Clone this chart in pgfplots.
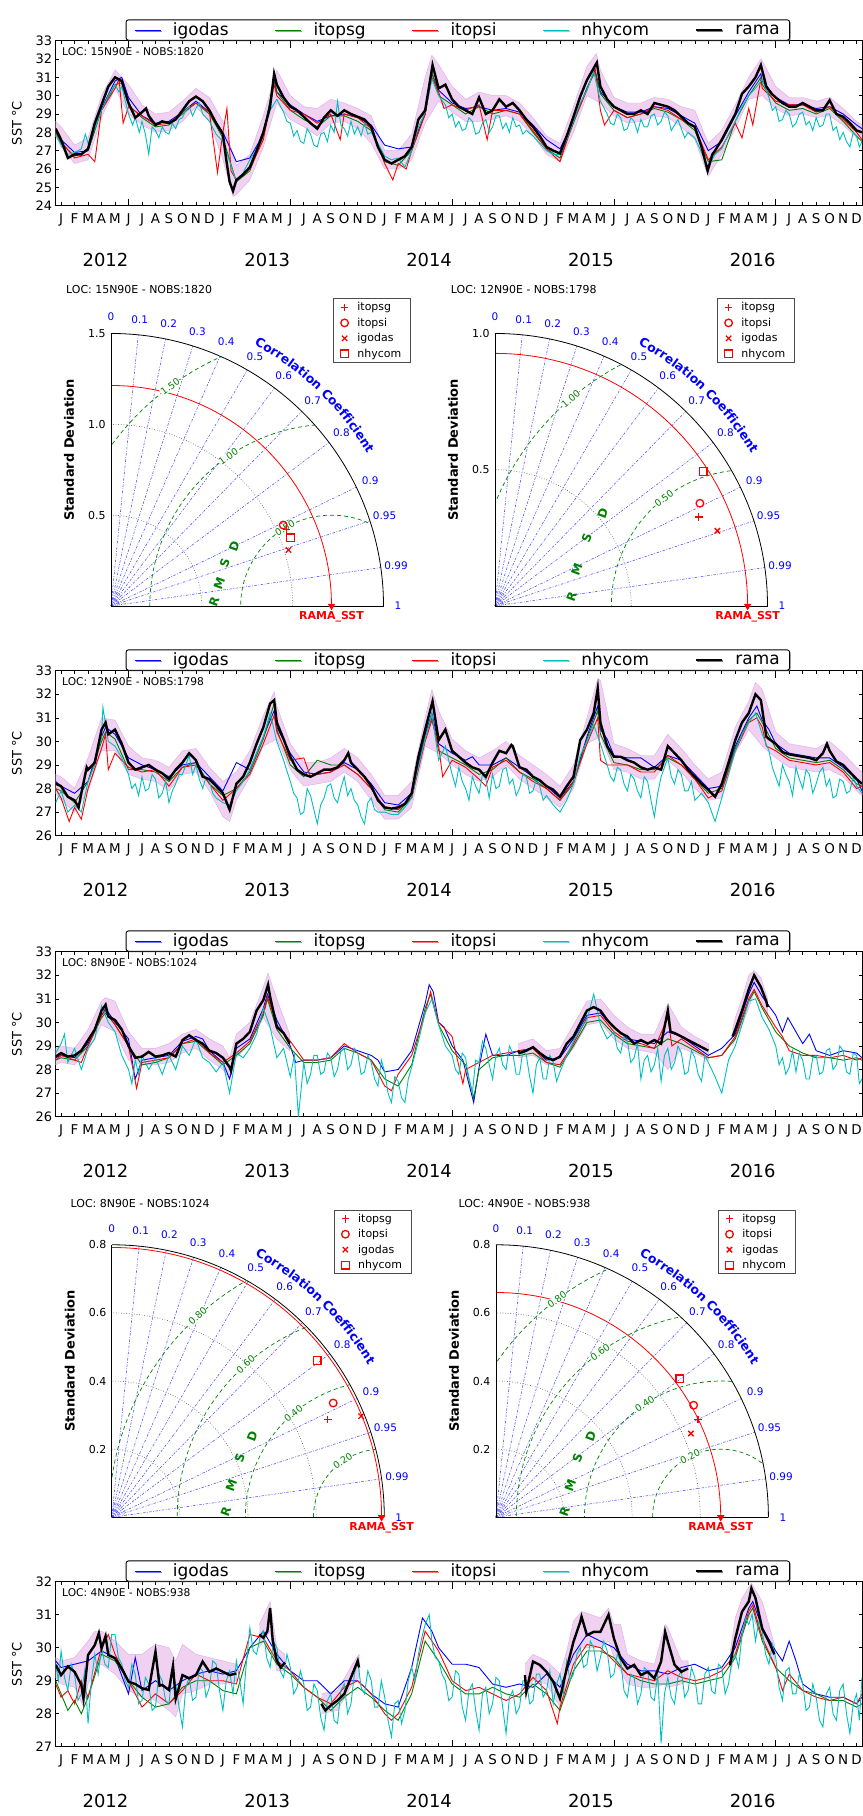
\documentclass[border=0pt]{standalone}
\usepackage{fontspec}
\setmainfont{DejaVu Sans}
\usepackage{pgfplots}
\pgfplotsset{compat=1.18}
\usetikzlibrary{decorations.text,shadows}
\definecolor{cB}{rgb}{0,0,1}
\definecolor{cG}{rgb}{0,0.5,0}
\definecolor{cR}{rgb}{1,0,0}
\definecolor{cC}{rgb}{0,0.75,0.75}
\definecolor{bandfill}{rgb}{0.94,0.82,0.95}
\definecolor{bandedge}{rgb}{0.86,0.68,0.89}
\tikzset{
 corrline/.style={blue!70!white, line width=0.55bp, dash pattern=on 2.5bp off 1.5bp on 0.8bp off 1.5bp},
 corrlab/.style={text=blue, font=\fontsize{10.5}{10.5}\selectfont, inner sep=0pt},
 stdgrid/.style={black!75, line width=0.6bp, dotted},
 rmsline/.style={cG, line width=0.7bp, dash pattern=on 4bp off 3bp},
 rmslab/.style={text=cG, font=\fontsize{9.5}{9.5}\selectfont, fill=white, inner sep=0.6bp},
 rmslet/.style={text=cG, font=\bfseries\fontsize{12}{12}\selectfont, inner sep=0pt, rotate=70},
 ttitle/.style={anchor=west, font=\fontsize{11}{11}\selectfont, inner sep=0pt},
}
\newcommand{\TaylorBase}[3]{%
\begin{scope}[shift={(#1,#2)}]
\foreach \ang/\lab in {84.26/0.1,78.46/0.2,72.54/0.3,66.42/0.4,60/0.5,53.13/0.6,45.57/0.7,36.87/0.8,25.84/0.9,18.19/0.95,8.11/0.99}{%
 \draw[corrline] (0,0) -- (\ang:272.5bp);
 \node[corrlab] at (\ang:288bp) {\lab};}
\node[corrlab] at (90:289bp) {0};
\node[corrlab] at (0:287bp) {1};
\foreach \rr in {3,6,9,12,15}{\draw[blue,dotted,line width=0.4bp] (\rr bp,0) arc[start angle=0,end angle=90,radius=\rr bp];}
\draw[black,line width=0.8bp] (272.5bp,0) arc[start angle=0,end angle=90,radius=272.5bp];
\draw[cR,line width=0.8bp] (#3,0) arc[start angle=0,end angle=90,radius=#3];
\node[font=\bfseries\fontsize{11}{11}\selectfont, text=cR] at (#3,-10.5bp) {RAMA\_SST};
\path[decorate,decoration={text along path,text align=center,text color=blue,text={|\bfseries\fontsize{12.5}{12.5}\selectfont|Correlation Coefficient}}] (76:298bp) arc[start angle=76,end angle=16,radius=298bp];
\end{scope}}
\newcommand{\stdarc}[1]{\draw[stdgrid] (#1,0) arc[start angle=0,end angle=90,radius=#1];}
\newcommand{\rmsarcs}[2]{\begin{scope}\clip (0,0) -- (272.5bp,0) arc[start angle=0,end angle=90,radius=272.5bp] -- cycle;
\foreach \rr in {#2}{\draw[rmsline] (#1,0) circle[radius=\rr];}\end{scope}}
\pgfplotsset{
 /pgf/number format/assume math mode=true,
 tsaxis/.style={
  anchor=south west, width=806.3bp, height=165bp, scale only axis,
  xmin=-0.4, xmax=59.4,
  xtick={0,...,59},
  xticklabels={J,F,M,A,M,J,J,A,S,O,N,D,J,F,M,A,M,J,J,A,S,O,N,D,J,F,M,A,M,J,J,A,S,O,N,D,J,F,M,A,M,J,J,A,S,O,N,D,J,F,M,A,M,J,J,A,S,O,N,D},
  xticklabel style={anchor=base, yshift=-18bp, inner sep=0pt, font=\fontsize{13.5}{13.5}\selectfont},
  extra x ticks={5,17,29,41,53},
  extra x tick labels={2012,2013,2014,2015,2016},
  extra x tick style={major tick length=7bp, xticklabel style={anchor=base east, yshift=-43bp, font=\fontsize{18}{18}\selectfont}},
  major tick length=3.5bp, tick align=inside,
  tick style={black, line width=0.6bp},
  yticklabel style={font=\fontsize{13}{13}\selectfont},
  ylabel={SST °C},
  ylabel style={at={(axis description cs:-0.048,0.5)}, anchor=center, font=\fontsize{13}{13}\selectfont},
  axis line style={line width=0.9bp},
  unbounded coords=jump,
  legend columns=5,
  legend entries={igodas,itopsg,itopsi,nhycom,rama},
  legend image code/.code={\draw[##1] (0bp,0bp) -- (26bp,0bp); \path (36bp,0bp);},
  legend style={at={(0.0867,1.0)}, anchor=south west, draw=black, line width=0.9bp, rounded corners=2.5bp, font=\fontsize{17}{17}\selectfont, inner xsep=8bp, inner ysep=1bp, /tikz/every even column/.append style={column sep=44bp}, drop shadow={shadow xshift=1.2bp, shadow yshift=-1.2bp, fill=black!55}},
 },
 ig/.style={cB, line width=0.9bp},
 tg/.style={cG, line width=0.9bp},
 ti/.style={cR, line width=0.9bp},
 nh/.style={cC, line width=0.9bp},
 ra/.style={black, line width=2.4bp},
 bd/.style={fill=bandfill, draw=bandedge, line width=0.4bp, forget plot},
 taxis/.style={
  anchor=south west, width=272.5bp, height=272.5bp, scale only axis,
  xmin=0, ymin=0,
  axis x line=bottom, axis y line=left, axis line style={-, line width=0.8bp},
  xtick=\empty, major tick length=0pt,
  yticklabel style={font=\fontsize{11}{11}\selectfont, /pgf/number format/fixed, /pgf/number format/fixed zerofill, /pgf/number format/precision=1, xshift=-2bp},
  ylabel={Standard Deviation},
  ylabel style={at={(axis description cs:-0.154,0.573)}, anchor=center, font=\bfseries\fontsize{13}{13}\selectfont},
  clip=false,
  legend cell align=left,
  legend entries={itopsg,itopsi,igodas,nhycom},
  legend style={at={(0.816,1.129)}, anchor=north west, draw=black!70, line width=0.9bp, font=\fontsize{11}{11}\selectfont, inner xsep=7bp, inner ysep=1bp, nodes={inner ysep=2.8bp}, /tikz/every odd column/.append style={column sep=7bp}},
 },
 tm/.style={only marks, cR, line width=1.3bp, mark size=3.8bp},
}
\begin{document}
\begin{tikzpicture}[x=1bp,y=1bp]
\useasboundingbox (0,0) rectangle (863,1816);

%================ PANEL 1 =================
\begin{axis}[tsaxis, at={(55.7bp,1610.3bp)}, ymin=24, ymax=33, ytick={24,...,33}]
\addplot[bd] coordinates {(-0.4,28.6)(0,28.3)(1,27.3)(2,27.7)(3,30.0)(4,31.4)(5,30.6)(6,29.5)(7,29.0)(8,29.1)(9,29.7)(10,30.4)(11,29.9)(12,28.6)(13,26.2)(14,26.8)(15,28.9)(16,31.4)(17,30.0)(18,29.4)(19,29.3)(20,29.8)(21,29.6)(22,29.3)(23,28.9)(24,27.0)(25,27.0)(26,27.9)(27,31.0)(27.5,32.2)(28,31.7)(29,30.5)(30,29.8)(31,30.2)(32,30.0)(33,30.0)(34,29.6)(35,28.8)(36,27.8)(37,27.4)(38,29.4)(39,31.6)(39.7,32.3)(40,31.4)(41,29.9)(42,29.6)(43,29.6)(44,29.9)(45,29.8)(46,29.4)(47,29.2)(48,27.4)(49,28.1)(50,29.5)(51,31.0)(51.9,32.0)(52,31.9)(53,30.5)(54,29.9)(55,29.9)(56,29.7)(57,29.9)(58,29.3)(59,28.6)(59.4,28.4)
(59.4,27.6)(59,27.7)(58,28.4)(57,28.9)(56,28.8)(55,29.0)(54,28.9)(53,29.3)(52,30.0)(51,29.8)(50,28.2)(49,26.8)(48,25.6)(47,27.6)(46,28.3)(45,28.8)(44,28.9)(43,28.6)(42,28.5)(41,28.9)(40,29.6)(39,30.0)(38,28.0)(37,26.4)(36,26.8)(35,27.8)(34,28.6)(33,28.9)(32,28.7)(31,28.6)(30,28.6)(29,29.1)(28,29.7)(27,28.5)(26,26.5)(25,26.0)(24,26.0)(23,27.4)(22,28.2)(21,28.6)(20,28.5)(19,27.8)(18,28.3)(17,28.7)(16,29.6)(15,27.2)(14,25.4)(13,24.6)(12.75,24.5)(12,26.5)(11,28.6)(10,29.4)(9,28.6)(8,28.1)(7,28.0)(6,28.4)(5,29.0)(4,30.4)(3,28.8)(2,26.5)(1,26.3)(0,27.2)(-0.4,27.8)};
\addplot[ig] coordinates {(-0.4,28.1)(0,27.6)(1,26.9)(2,27.0)(3,29.3)(4,30.8)(4.5,31.0)(5,29.9)(6,28.9)(7,28.5)(8,28.6)(9,29.1)(10,29.7)(11,29.1)(12,28.0)(13,26.4)(14,26.6)(15,27.9)(15.8,30.8)(16,30.2)(17,29.5)(18,29.0)(19,28.6)(20,28.9)(21,29.0)(22,28.8)(23,28.4)(24,27.3)(25,27.1)(26,27.2)(27,29.0)(27.5,31.2)(28,30.3)(29,29.6)(30,29.3)(31,29.4)(32,29.2)(33,29.3)(34,29.1)(35,28.4)(36,27.6)(37,27.1)(38,28.6)(39,30.4)(39.6,31.4)(40,30.2)(41,29.4)(42,29.1)(43,29.1)(44,29.4)(45,29.3)(46,28.9)(47,28.5)(48,27.0)(49,27.5)(50,28.9)(51,30.2)(51.9,31.2)(52,30.8)(53,29.9)(54,29.5)(55,29.5)(56,29.3)(57,29.4)(58,29.0)(59,28.4)(59.4,28.2)};
\addplot[tg] coordinates {(-0.4,28.0)(0,27.4)(1,26.7)(2,27.0)(3,29.2)(4,30.6)(4.5,30.7)(5,29.5)(6,28.8)(7,28.3)(8,28.4)(9,29.0)(10,29.6)(11,29.0)(12,27.7)(13,25.3)(14,25.9)(15,27.8)(15.8,30.9)(16,30.2)(17,29.2)(18,28.7)(19,28.3)(20,28.9)(21,28.9)(22,28.6)(23,28.1)(24,26.4)(25,26.2)(26,27.0)(27,29.0)(27.5,31.3)(28,30.0)(29,29.5)(30,29.0)(31,29.4)(32,29.0)(33,29.2)(34,29.0)(35,28.0)(36,27.1)(37,26.6)(38,28.5)(39,30.4)(39.6,31.3)(40,30.1)(41,29.2)(42,28.8)(43,29.0)(44,29.3)(45,29.1)(46,28.7)(47,28.1)(48,26.4)(49,26.5)(50,28.6)(51,30.0)(51.9,31.0)(52,30.6)(53,29.6)(54,29.2)(55,29.3)(56,29.0)(57,29.3)(58,28.6)(59,27.8)(59.4,27.5)};
\addplot[ti] coordinates {(-0.4,28.0)(0,27.5)(1,26.6)(2,26.8)(2.5,26.4)(3,29.2)(4,30.4)(4.3,30.9)(4.6,28.5)(5,29.4)(6,28.9)(7,28.4)(8,28.5)(9,29.1)(10,29.6)(11,29.1)(11.6,25.8)(12,28.0)(12.3,29.3)(12.6,25.9)(13,25.4)(14,26.0)(15,27.6)(15.8,30.6)(16,30.0)(17,29.2)(18,29.0)(19,28.5)(20,29.0)(20.7,27.6)(21,29.0)(22,28.8)(23,28.2)(24,26.3)(24.6,25.4)(25,26.3)(25.6,26.0)(26,27.0)(27,29.0)(27.5,31.0)(28,30.2)(28.4,29.3)(29,29.5)(30,29.2)(31,29.5)(31.6,27.6)(32,29.2)(33,29.2)(34,29.0)(35,28.1)(36,27.1)(37,26.4)(38,28.6)(39,30.3)(39.6,31.5)(40,29.2)(40.3,28.4)(41,29.2)(42,28.8)(43,29.0)(44,29.4)(45,29.2)(46,28.7)(47,28.3)(48,26.5)(49,27.2)(50,28.5)(50.5,27.7)(51,29.3)(51.3,28.4)(51.9,30.9)(52,30.4)(53,29.7)(54,29.5)(55,29.5)(56,29.1)(57,29.4)(58,28.7)(59,28.0)(59.4,27.6)};
\addplot[nh] coordinates {(-0.4,27.9)(0,27.3)(0.5,26.8)(1,26.9)(1.5,27.1)(1.8,27.9)(2,27.4)(2.5,28.2)(3,29.2)(3.5,30.0)(4,30.6)(4.3,30.2)(4.5,30.5)(5,29.0)(5.3,28.4)(5.5,28.8)(5.8,28.0)(6,28.6)(6.25,27.9)(6.5,26.8)(6.75,28.3)(7,28.1)(7.25,27.7)(7.5,28.3)(7.75,28.0)(8,27.9)(8.25,28.5)(8.5,28.2)(8.75,28.7)(9,28.8)(9.25,29.2)(9.5,29.4)(9.75,28.9)(10,29.3)(10.25,29.6)(10.5,29.0)(10.75,28.8)(11,28.6)(11.5,27.9)(12,27.5)(12.5,26.4)(13,25.3)(13.5,25.8)(14,26.5)(14.5,27.1)(15,28.1)(15.5,29.2)(16,29.8)(16.5,29.1)(16.75,28.6)(17,28.5)(17.25,27.8)(17.5,28.1)(17.75,27.5)(18,27.4)(18.25,28.2)(18.5,27.9)(18.75,27.3)(19,27.2)(19.25,27.9)(19.5,28.0)(19.75,27.5)(20,28.4)(20.25,28.0)(20.5,29.7)(20.75,28.4)(21,28.2)(21.25,27.8)(21.5,28.6)(21.75,27.9)(22,28.3)(22.25,27.8)(22.5,28.5)(22.75,27.9)(23,28.0)(23.5,27.4)(24,26.7)(24.5,26.5)(25,26.6)(25.5,26.1)(26,27.0)(26.5,28.3)(27,29.1)(27.5,30.9)(28,30.0)(28.5,29.5)(28.75,28.8)(29,29.0)(29.25,28.3)(29.5,28.6)(29.75,28.1)(30,28.2)(30.25,28.8)(30.5,28.6)(30.75,27.9)(31,28.0)(31.25,28.5)(31.5,28.7)(31.75,28.0)(32,28.3)(32.25,28.9)(32.5,28.9)(32.75,28.2)(33,28.5)(33.25,28.0)(33.5,28.8)(33.75,28.3)(34,28.4)(34.25,27.9)(34.5,28.1)(35,27.8)(35.5,27.4)(36,27.0)(36.5,26.8)(37,26.8)(37.5,27.6)(38,28.6)(38.5,29.6)(39,30.3)(39.5,31.3)(40,29.7)(40.5,29.0)(40.75,28.5)(41,28.4)(41.25,29.0)(41.5,28.8)(41.75,28.1)(42,28.2)(42.25,28.8)(42.5,28.6)(42.75,28.0)(43,28.7)(43.25,28.3)(43.5,28.3)(43.75,28.9)(44,29.0)(44.25,28.4)(44.5,28.6)(44.75,29.1)(45,28.9)(45.25,28.1)(45.5,28.4)(45.75,28.7)(46,28.2)(46.25,27.7)(46.5,28.0)(47,27.7)(47.5,26.9)(48,26.1)(48.5,26.8)(49,27.1)(49.5,27.9)(50,28.6)(50.5,29.4)(51,30.0)(51.5,30.4)(52,30.9)(52.5,29.9)(52.75,29.2)(53,29.4)(53.25,28.6)(53.5,28.7)(53.75,29.2)(54,29.0)(54.25,28.3)(54.5,28.5)(54.75,29.0)(55,29.1)(55.25,28.4)(55.5,28.6)(55.75,28.1)(56,28.8)(56.25,28.3)(56.5,28.4)(56.75,29.0)(57,29.0)(57.25,28.1)(57.5,28.3)(57.75,27.6)(58,28.0)(58.25,27.5)(58.5,27.2)(58.75,28.0)(59,27.8)(59.2,27.2)(59.4,27.5)};
\addplot[ra] coordinates {(-0.4,28.2)(0,27.6)(0.5,26.6)(1,26.8)(1.5,26.8)(2,27.1)(2.5,28.5)(3,29.5)(3.5,30.5)(4,31.0)(4.5,30.8)(5,29.6)(5.5,28.8)(6,29.1)(6.3,29.3)(6.5,28.9)(7,28.4)(7.5,28.6)(8,28.5)(8.5,28.7)(9,29.2)(9.5,29.7)(10,29.95)(10.5,29.7)(11,29.2)(11.5,28.5)(12,27.9)(12.25,26.5)(12.5,25.3)(12.75,24.8)(13,25.4)(13.5,25.7)(14,26.1)(14.5,27.0)(15,28.0)(15.5,29.4)(15.8,31.2)(16,30.6)(16.5,29.9)(17,29.4)(17.5,29.2)(18,28.85)(18.5,28.5)(19,28.2)(19.5,28.8)(20,29.2)(20.5,28.9)(21,29.2)(21.5,29.0)(22,28.85)(22.5,28.7)(23,28.3)(23.5,27.2)(24,26.5)(24.5,26.3)(25,26.5)(25.5,26.7)(26,27.2)(26.5,28.7)(27,29.2)(27.55,31.67)(28,30.4)(28.5,30.6)(29,29.8)(29.5,29.4)(30,29.2)(30.5,29.0)(31,29.9)(31.5,29.0)(32,29.2)(32.5,29.8)(33,29.4)(33.5,29.6)(34,29.2)(34.5,28.7)(35,28.3)(35.5,27.8)(36,27.2)(36.5,27.0)(37,26.85)(37.5,27.8)(38,28.85)(38.5,29.95)(39,30.85)(39.5,31.5)(39.73,31.8)(40,30.5)(40.5,29.8)(41,29.4)(41.5,29.2)(42,29.0)(42.5,29.0)(43,29.2)(43.5,29.0)(44,29.6)(44.5,29.5)(45,29.4)(45.5,29.2)(46,28.85)(46.5,28.5)(47,28.3)(47.5,27.2)(47.95,25.9)(48.3,26.8)(48.5,27.0)(49,27.6)(49.5,28.3)(50,29.0)(50.5,30.1)(51,30.5)(51.5,31.0)(51.9,31.67)(52.3,30.5)(52.7,30.1)(53,29.9)(53.5,29.6)(54,29.4)(54.5,29.4)(55,29.6)(55.5,29.4)(56,29.2)(56.5,29.2)(57,29.75)(57.5,29.0)(58,28.85)(58.5,28.5)(59,28.1)(59.4,28.0)};
\node[anchor=west, font=\fontsize{10.7}{10.7}\selectfont, inner sep=0pt] at (rel axis cs:0.0078,0.9315) {LOC: 15N90E - NOBS:1820};
\end{axis}

%================ TAYLOR ROW 1 =================
\TaylorBase{111}{1210}{220.5bp}
\begin{scope}[shift={(111,1210)}]
\stdarc{90.83bp}\stdarc{181.67bp}
\rmsarcs{220.5bp}{90.83bp,181.67bp,272.5bp}
\node[rmslab,rotate=36] at (59.2,219.6) {1.50};
\node[rmslab,rotate=35] at (117.4,149.5) {1.00};
\node[rmslab,rotate=31] at (173.9,77.9) {0.50};
\node[rmslet] at (103,4.3) {R};\node[rmslet] at (108.3,22.7) {M};\node[rmslet] at (113.7,42.7) {S};\node[rmslet] at (123.3,59.3) {D};
\node[ttitle] at (-45,316) {LOC: 15N90E - NOBS:1820};
\end{scope}
\begin{axis}[taxis, at={(111bp,1210bp)}, xmax=1.5, ymax=1.5, ytick={0.5,1,1.5}]
\addplot[tm, mark=+] coordinates {(0.965,0.42)};
\addplot[tm, mark=o] coordinates {(0.948,0.4455)};
\addplot[tm, mark=x] coordinates {(0.977,0.308)};
\addplot[tm, mark=square] coordinates {(0.988,0.376)};
\addplot[tm, mark=triangle*, mark options={rotate=180}, mark size=3bp, forget plot] coordinates {(1.214,0)};
\end{axis}

\TaylorBase{495}{1210}{252.6bp}
\begin{scope}[shift={(495,1210)}]
\stdarc{136.25bp}
\rmsarcs{252.6bp}{136.25bp,272.5bp}
\node[rmslab,rotate=40] at (75.8,207.1) {1.00};
\node[rmslab,rotate=38] at (169.0,107.6) {0.50};
\node[rmslet] at (76.7,9.3) {R};\node[rmslet] at (81.7,36.7) {M};\node[rmslet] at (91.7,67.7) {S};\node[rmslet] at (107.7,92.7) {D};
\node[ttitle] at (-44.3,316) {LOC: 12N90E - NOBS:1798};
\end{scope}
\begin{axis}[taxis, at={(495bp,1210bp)}, xmax=1, ymax=1, ytick={0.5,1}]
\addplot[tm, mark=+] coordinates {(0.748,0.326)};
\addplot[tm, mark=o] coordinates {(0.752,0.377)};
\addplot[tm, mark=x] coordinates {(0.816,0.276)};
\addplot[tm, mark=square] coordinates {(0.764,0.493)};
\addplot[tm, mark=triangle*, mark options={rotate=180}, mark size=3bp, forget plot] coordinates {(0.927,0)};
\end{axis}

%================ PANEL 3 =================
\begin{axis}[tsaxis, at={(55.7bp,980.3bp)}, ymin=26, ymax=33, ytick={26,...,33}]
\addplot[bd] coordinates {(-0.4,28.6)(0,28.5)(1,28.0)(2,29.3)(3,31.0)(4,30.9)(5,29.8)(6,29.3)(7,29.2)(8,28.9)(9,29.6)(10,29.7)(11,28.9)(12,28.3)(13,28.7)(14,29.6)(15,31.1)(15.8,32.1)(16,31.5)(17,29.9)(18,29.1)(19,29.1)(20,29.3)(21,29.7)(22,29.3)(23,28.6)(24,27.7)(25,27.7)(26,28.3)(27,31.0)(27.5,32.2)(28,31.3)(29,30.1)(30,29.6)(31,29.3)(32,29.6)(33,30.0)(34,29.4)(35,29.0)(36,28.6)(37,28.1)(38,29.0)(39,31.0)(39.8,32.65)(40,32.6)(41,29.9)(42,29.7)(43,29.4)(44,29.4)(45,30.3)(46,29.7)(47,29.0)(48,28.4)(49,28.7)(50,30.6)(51,31.7)(51.5,32.5)(52,32.2)(53,30.4)(54,29.9)(55,29.8)(56,29.7)(57,30.0)(58,29.5)(59,28.9)(59.4,28.7)
(59.4,27.7)(59,27.9)(58,28.5)(57,28.8)(56,28.7)(55,28.8)(54,28.9)(53,29.3)(52,29.8)(51,30.5)(50,29.5)(49,27.6)(48,27.5)(47,28.0)(46,28.7)(45,29.2)(44,28.4)(43,28.4)(42,28.7)(41,28.8)(40,30.2)(39,29.9)(38,28.0)(37,27.2)(36,27.6)(35,28.0)(34,28.4)(33,29.0)(32,28.5)(31,28.3)(30,28.6)(29,29.0)(28,29.5)(27,29.8)(26,27.2)(25,26.7)(24,26.7)(23,27.5)(22,28.3)(21,28.7)(20,28.3)(19,28.2)(18,28.1)(17,28.8)(16,30.1)(15,29.8)(14,28.5)(13,27.5)(12.5,26.6)(12,26.8)(11,27.9)(10,28.7)(9,28.6)(8,27.9)(7,28.3)(6,28.4)(5,28.6)(4,29.6)(3,29.6)(2,27.9)(1,27.0)(0,27.5)(-0.4,27.8)};
\addplot[ig] coordinates {(-0.4,28.3)(0,28.1)(1,27.8)(2,28.3)(3,30.2)(3.3,30.6)(4,30.3)(5,29.3)(6,29.0)(7,28.8)(8,28.5)(9,29.0)(10,29.1)(11,28.5)(12,27.9)(13,29.1)(14,28.8)(15,30.2)(15.8,31.3)(16,30.6)(17,29.5)(18,28.7)(19,28.6)(20,28.7)(21,29.1)(22,28.8)(23,28.2)(24,27.4)(25,27.3)(26,27.8)(27,30.3)(27.5,31.2)(28,29.9)(29,29.5)(30,29.2)(30.5,29.35)(31,29.0)(32,29.0)(33,29.3)(34,28.9)(35,28.5)(36,28.1)(37,27.6)(38,28.3)(39,30.2)(39.8,31.5)(40,30.5)(40.5,30.1)(41,29.4)(42,29.3)(43,29.3)(44,28.9)(45,29.4)(46,29.2)(47,28.6)(48,28.0)(49,28.1)(50,29.8)(51,31.0)(51.6,31.5)(52,30.9)(52.5,30.5)(53,29.9)(54,29.5)(55,29.4)(56,29.3)(57,29.3)(58,28.9)(59,28.4)(59.4,27.9)};
\addplot[tg] coordinates {(-0.4,28.0)(0,27.9)(1,27.4)(2,28.3)(3,30.0)(3.3,30.4)(4,30.1)(5,28.8)(6,28.8)(7,28.7)(8,28.3)(9,28.9)(10,29.1)(11,28.2)(12,27.7)(13,28.0)(14,28.7)(15,30.1)(15.8,31.6)(16,30.5)(17,29.0)(18,28.5)(19,29.2)(20,29.0)(21,29.0)(22,28.6)(23,28.0)(24,27.1)(25,27.0)(26,27.6)(27,30.2)(27.5,31.0)(28,29.6)(29,29.3)(30,29.0)(31,28.6)(32,28.8)(33,29.3)(34,28.7)(35,28.4)(36,28.0)(37,27.5)(38,28.2)(39,30.1)(39.8,31.3)(40,30.3)(41,29.1)(42,29.0)(43,28.8)(44,28.8)(45,29.3)(46,29.0)(47,28.4)(48,27.8)(49,28.0)(50,29.7)(51,30.9)(51.6,31.2)(52,30.8)(53,29.7)(54,29.3)(55,29.2)(56,29.1)(57,29.2)(58,28.8)(59,28.2)(59.4,28.1)};
\addplot[ti] coordinates {(-0.4,28.0)(0,27.6)(0.6,26.6)(1,27.2)(1.5,26.7)(2,28.0)(3,29.7)(3.3,30.3)(3.5,28.8)(4,29.5)(5,28.9)(6,28.7)(7,28.8)(8,28.1)(9,28.9)(10,29.0)(11,28.2)(12,27.5)(13,28.0)(14,28.6)(15,29.9)(15.8,31.1)(16,30.4)(17,29.2)(18,29.3)(18.5,28.5)(19,28.6)(20,28.7)(21,29.0)(22,28.6)(23,28.0)(24,27.2)(25,27.1)(26,27.6)(27,30.0)(27.5,30.9)(28,29.8)(28.3,28.5)(29,29.2)(30,28.9)(31,28.4)(31.5,28.1)(32,28.9)(33,29.2)(34,28.7)(35,28.3)(36,28.0)(37,27.5)(38,28.3)(39,29.9)(39.8,31.0)(40,29.2)(40.5,29.0)(41,29.0)(42,29.0)(43,28.7)(44,28.7)(45,29.4)(46,29.0)(47,28.4)(48,27.6)(49,27.9)(50,29.6)(51,30.8)(51.6,31.0)(52,30.6)(52.3,29.8)(53,29.6)(54,29.2)(55,29.1)(56,29.0)(57,29.1)(58,28.7)(59,28.0)(59.4,28.1)};
\addplot[nh] coordinates {(-0.4,27.4)(0,27.9)(0.5,27.0)(1,27.3)(1.5,27.0)(2,28.3)(2.5,29.0)(3,30.2)(3.1,31.45)(3.5,30.0)(4,29.8)(4.5,29.3)(5,28.6)(5.25,28.0)(5.5,28.2)(5.75,27.7)(6,28.5)(6.25,27.9)(6.5,28.0)(6.75,28.6)(7,28.4)(7.25,27.6)(7.5,27.8)(7.75,28.3)(8,27.4)(8.25,27.9)(8.5,28.2)(8.75,28.6)(9,28.6)(9.25,29.0)(9.5,29.4)(9.75,28.6)(10,29.0)(10.25,28.4)(10.5,28.0)(10.75,28.5)(11,28.3)(11.25,27.8)(11.5,27.6)(12,27.4)(12.5,27.3)(13,27.9)(13.5,28.3)(14,28.8)(14.5,29.5)(15,30.2)(15.5,31.2)(16,30.0)(16.5,29.2)(17,28.3)(17.25,27.8)(17.5,27.6)(17.75,26.9)(18,27.0)(18.25,28.0)(18.5,27.7)(18.75,27.1)(19,26.5)(19.25,27.3)(19.5,27.6)(19.75,28.1)(20,28.2)(20.25,27.6)(20.5,27.4)(20.75,28.0)(21,28.5)(21.25,27.7)(21.5,28.0)(21.75,27.5)(22,27.3)(22.25,26.8)(22.5,26.5)(22.75,27.4)(23,27.6)(23.25,27.1)(23.5,27.0)(24,27.0)(24.5,26.9)(25,26.9)(25.5,27.2)(26,27.6)(26.5,28.9)(27,30.1)(27.5,31.2)(28,29.2)(28.5,29.8)(29,28.6)(29.25,28.1)(29.5,28.9)(29.75,28.3)(30,28.0)(30.25,27.5)(30.5,28.5)(30.75,28.1)(31,27.8)(31.25,28.6)(31.5,28.4)(31.75,27.6)(32,28.6)(32.25,28.0)(32.5,28.1)(32.75,28.8)(33,28.9)(33.25,28.2)(33.5,28.4)(33.75,27.7)(34,28.0)(34.25,28.6)(34.5,28.5)(34.75,27.8)(35,27.9)(35.25,28.4)(35.5,28.1)(35.75,27.5)(36,27.7)(36.5,27.3)(37,27.0)(37.5,27.5)(38,28.2)(38.5,29.4)(39,30.0)(39.5,30.7)(40,29.9)(40.5,29.0)(40.75,28.5)(41,28.3)(41.25,28.9)(41.5,28.8)(41.75,28.2)(42,27.9)(42.25,28.6)(42.5,28.4)(42.75,27.9)(43,27.6)(43.25,28.5)(43.5,28.3)(43.75,27.5)(44,26.8)(44.25,27.8)(44.5,28.5)(44.75,28.9)(45,29.3)(45.25,28.5)(45.5,28.2)(45.75,28.8)(46,28.6)(46.25,27.9)(46.5,27.9)(46.75,28.3)(47,27.5)(47.5,27.8)(48,27.4)(48.5,26.6)(49,27.6)(49.5,28.6)(50,29.6)(50.5,30.3)(51,30.8)(51.5,31.2)(52,30.3)(52.5,29.6)(52.75,28.9)(53,28.5)(53.25,28.1)(53.5,29.0)(53.75,28.6)(54,28.3)(54.25,27.7)(54.5,28.9)(54.75,28.4)(55,28.0)(55.25,28.8)(55.5,28.6)(55.75,27.8)(56,28.2)(56.25,28.7)(56.5,28.9)(56.75,28.1)(57,28.4)(57.25,27.6)(57.5,27.7)(57.75,28.4)(58,28.3)(58.25,27.8)(58.5,27.9)(58.75,28.5)(59,28.1)(59.4,27.8)};
\addplot[ra] coordinates {(-0.4,28.2)(0,28.1)(0.5,27.65)(1,27.5)(1.3,27.2)(1.5,27.8)(1.9,28.9)(2,28.8)(2.5,29.1)(3,30.5)(3.3,30.8)(3.5,30.3)(4,30.5)(4.5,29.9)(5,29.1)(5.5,28.8)(6,28.9)(6.5,29.0)(7,28.8)(7.5,28.65)(8,28.4)(8.5,28.8)(9,29.1)(9.5,29.5)(10,29.2)(10.5,28.5)(11,28.4)(11.5,28.1)(12,27.8)(12.5,27.1)(13,28.2)(13.5,28.5)(14,29.1)(14.5,29.9)(15,30.6)(15.5,31.6)(15.8,31.75)(16,30.8)(16.5,30.1)(17,29.35)(17.5,28.8)(18,28.6)(18.5,28.5)(19,28.65)(19.5,28.8)(20,28.8)(20.5,28.9)(21,29.2)(21.3,29.5)(21.5,29.1)(22,28.8)(22.5,28.5)(23,28.1)(23.5,27.5)(24,27.2)(24.5,27.15)(25,27.2)(25.5,27.35)(26,27.8)(26.5,29.35)(27,30.5)(27.55,31.7)(28,30.05)(28.5,30.5)(29,29.6)(29.5,29.35)(30,29.1)(30.5,28.9)(31,28.8)(31.5,28.5)(32,29.1)(32.5,29.6)(33,29.5)(33.4,29.85)(33.5,29.8)(34,28.9)(34.5,28.8)(35,28.5)(35.5,28.35)(36,28.1)(36.5,27.95)(37,27.65)(37.5,28.1)(38,28.5)(38.5,30.05)(39,30.5)(39.5,31.2)(39.8,32.25)(40,30.8)(40.5,29.8)(41,29.35)(41.5,29.35)(42,29.2)(42.5,29.1)(43,28.9)(43.5,28.8)(44,28.9)(44.5,28.8)(45,29.8)(45.5,29.5)(46,29.2)(46.5,28.8)(47,28.5)(47.5,28.2)(48,27.95)(48.5,27.65)(49,28.2)(49.5,29.1)(50,30.05)(50.5,30.8)(51,31.2)(51.5,32.0)(51.9,31.75)(52.3,30.2)(52.5,30.1)(53,29.9)(53.5,29.55)(54,29.45)(54.5,29.4)(55,29.35)(55.5,29.3)(56,29.2)(56.5,29.5)(56.8,29.9)(57,29.6)(57.5,29.15)(58,29.0)(58.5,28.7)(59,28.4)(59.4,28.2)};
\node[anchor=west, font=\fontsize{10.7}{10.7}\selectfont, inner sep=0pt] at (rel axis cs:0.0078,0.9315) {LOC: 12N90E - NOBS:1798};
\end{axis}

%================ PANEL 4 =================
\begin{axis}[tsaxis, at={(55.7bp,699.3bp)}, ymin=26, ymax=33, ytick={26,...,33}]
\addplot[bd] coordinates {(-0.4,28.9)(0,29.0)(1,28.9)(2,29.7)(3,30.9)(3.3,31.05)(4,30.9)(5,29.6)(6,28.9)(7,28.9)(8,29.1)(9,29.5)(10,29.7)(11,29.3)(12,29.0)(12.5,28.5)(13,29.5)(14,30.0)(15,31.5)(15.35,32.1)(16,31.0)(16.95,29.5)(16.95,28.8)(16,29.3)(15,30.2)(14,29.1)(13,28.5)(12.5,27.6)(12,28.0)(11,28.4)(10,28.9)(9,28.7)(8,28.3)(7,28.2)(6,28.2)(5,28.4)(4,29.6)(3,29.9)(2,28.8)(1,28.2)(0,28.3)(-0.4,28.2)};
\addplot[bd] coordinates {(33.9,29.1)(35,29.3)(36,28.8)(37,28.9)(38,29.9)(39,30.9)(40,31.0)(41,30.3)(42,29.8)(43,29.5)(44,29.5)(45,30.8)(46,29.8)(47,29.4)(48,29.1)(48,28.4)(47,28.7)(46,28.9)(45,28.0)(44,28.7)(43,28.8)(42,28.9)(41,29.3)(40,30.0)(39,29.9)(38,28.9)(37,28.2)(36,28.2)(35,28.6)(33.9,28.5)};
\addplot[bd] coordinates {(49.8,29.7)(50,30.2)(50.5,31.0)(51,32.0)(51.4,32.2)(51.9,31.9)(52.4,31.0)(52.4,30.3)(51.9,31.0)(51.4,31.3)(51,30.6)(50.5,29.9)(50,29.3)(49.8,29.0)};
\addplot[ig] coordinates {(-0.4,28.5)(0,28.6)(1,28.5)(2,29.1)(3,30.3)(3.3,30.6)(4,30.0)(5,29.3)(5.5,27.6)(6,28.4)(7,28.5)(8,28.6)(9,29.2)(10,29.4)(10.5,29.3)(11,28.8)(12,28.3)(12.5,27.6)(13,28.9)(14,29.3)(15,30.6)(15.3,31.2)(16,30.1)(17,29.0)(17.4,28.3)(18,28.4)(19,28.4)(20,28.5)(21,29.0)(22,28.8)(23,28.6)(23.5,28.4)(24,27.9)(25,28.0)(26,28.8)(27,30.8)(27.3,31.6)(27.6,31.3)(28,30.0)(28.4,29.8)(29,29.0)(29.8,28.4)(30.2,27.5)(30.6,26.6)(31,28.1)(31.5,29.5)(32,28.6)(33,28.6)(34,28.8)(35,28.9)(36,28.4)(37,28.5)(38,29.3)(39,30.3)(40,30.4)(40.6,30.0)(41,29.8)(42,29.3)(43,29.2)(44,29.1)(45,29.6)(46,29.4)(47,29.0)(48,28.6)(49,28.9)(50,29.5)(51,31.2)(51.4,31.7)(52,31.1)(53,30.3)(53.5,29.6)(53.9,30.2)(55,29.1)(55.5,29.5)(56,28.8)(57,28.6)(58,28.8)(59,28.7)(59.4,28.5)};
\addplot[tg] coordinates {(-0.4,28.4)(0,28.5)(1,28.4)(2,29.0)(3,30.2)(3.3,30.4)(4,29.9)(5,29.0)(6,28.2)(7,28.3)(8,28.5)(9,29.1)(10,29.2)(11,28.7)(12,28.2)(13,28.6)(14,29.1)(15,30.3)(15.3,31.0)(16,29.7)(17,28.9)(18,28.3)(19,28.3)(20,28.4)(21,28.9)(22,28.7)(23,28.4)(24,27.6)(25,27.3)(26,28.2)(27,30.6)(27.4,31.2)(28,29.9)(29,28.8)(30,28.2)(30.6,26.8)(31,28.0)(32,28.5)(33,28.6)(34,28.6)(35,28.7)(36,28.3)(37,28.1)(38,29.0)(39,30.0)(40,30.1)(41,29.5)(42,29.1)(43,29.0)(44,28.9)(45,29.3)(46,29.1)(47,28.8)(48,28.5)(49,28.6)(50,29.3)(51,30.9)(51.4,31.3)(52,30.6)(53,29.6)(54,29.0)(55,28.7)(56,28.5)(57,28.5)(58,28.4)(59,28.5)(59.4,28.4)};
\addplot[ti] coordinates {(-0.4,28.4)(0,28.6)(1,28.4)(1.5,28.3)(2,29.0)(3,30.3)(3.3,30.5)(4,29.9)(5,29.0)(5.6,27.2)(6,28.3)(7,28.4)(8,28.5)(9,29.1)(10,29.3)(11,28.7)(12,28.3)(13,28.7)(14,29.2)(15,30.4)(15.3,31.1)(16,29.9)(17,29.2)(18,28.4)(19,28.4)(20,28.5)(21,29.1)(22,28.7)(23,28.4)(24,27.3)(24.5,27.1)(25,27.8)(26,28.6)(27,30.4)(27.4,31.3)(28,30.0)(29,29.4)(29.8,27.4)(30,28.0)(31,28.3)(32,28.6)(33,28.7)(34,28.8)(35,28.9)(36,28.3)(37,28.2)(38,29.1)(39,30.2)(40,30.3)(41,29.6)(42,29.2)(43,29.1)(44,28.9)(45,30.2)(45.3,29.0)(46,29.3)(47,28.9)(48,28.5)(49,28.6)(50,29.4)(51,31.0)(51.4,31.4)(52,30.7)(53,29.8)(53.5,29.4)(54,28.8)(55,28.6)(56,28.6)(57,28.5)(58,28.6)(59,28.4)(59.4,28.5)};
\addplot[nh] coordinates {(-0.4,28.7)(0,29.1)(0.25,29.5)(0.5,28.3)(1,28.9)(1.5,28.0)(2,28.9)(2.5,29.3)(3,30.7)(3.5,30.0)(4,29.6)(4.5,28.6)(5,28.0)(5.25,27.4)(5.5,28.4)(5.75,27.8)(6,28.6)(6.5,28.0)(7,28.5)(7.5,27.8)(8,28.6)(8.5,28.0)(9,29.0)(9.5,28.6)(10,29.3)(10.5,28.5)(11,28.3)(11.5,27.9)(12,28.3)(12.5,27.0)(13,28.7)(13.5,28.5)(14,28.9)(14.5,29.5)(15,30.6)(15.5,29.8)(16,28.5)(16.5,28.9)(17,27.7)(17.3,28.6)(17.6,26.0)(18,28.3)(18.25,27.4)(18.5,27.8)(18.75,28.6)(19,28.6)(19.25,27.8)(19.5,27.9)(19.75,28.7)(20,28.5)(20.25,27.7)(20.5,28.0)(20.75,28.8)(21,28.9)(21.25,28.0)(21.5,28.2)(21.75,28.9)(22,28.7)(22.25,27.8)(22.5,27.9)(22.75,28.6)(23,28.3)(23.25,27.6)(23.5,27.3)(23.75,28.4)(24,27.9)(24.25,27.0)(24.5,26.6)(24.75,27.7)(25,27.5)(25.25,26.8)(25.5,26.6)(25.75,27.6)(26,28.1)(26.5,29.2)(27,30.4)(27.5,31.0)(28,29.9)(28.5,29.0)(29,28.6)(29.25,28.0)(29.5,27.8)(29.75,28.7)(30,28.5)(30.25,27.6)(30.5,27.0)(30.75,28.4)(31,28.3)(31.25,29.2)(31.5,28.9)(31.75,28.2)(32,27.6)(32.25,28.6)(32.5,28.9)(32.75,28.2)(33,28.0)(33.25,29.0)(33.5,28.7)(33.75,27.8)(34,27.8)(34.25,28.8)(34.5,28.6)(34.75,27.7)(35,27.0)(35.25,28.2)(35.5,28.5)(35.75,27.6)(36,27.6)(36.25,28.6)(36.5,28.3)(36.75,27.5)(37,27.9)(37.5,28.6)(38,29.2)(38.5,29.7)(39,30.1)(39.5,31.2)(40,29.9)(40.5,29.3)(41,29.6)(41.25,28.9)(41.5,28.7)(41.75,29.4)(42,29.2)(42.25,28.3)(42.5,28.5)(42.75,29.1)(43,27.6)(43.25,28.4)(43.5,28.6)(43.75,27.9)(44,28.2)(44.25,28.9)(44.5,27.5)(44.75,28.6)(45,28.9)(45.25,28.0)(45.5,28.3)(45.75,29.0)(46,28.7)(46.25,27.8)(46.5,27.9)(46.75,28.8)(47,28.5)(47.25,27.8)(47.5,27.5)(47.75,28.6)(48,28.3)(48.5,27.7)(49,27.0)(49.5,28.4)(50,29.0)(50.5,29.9)(51,30.9)(51.5,31.0)(52,30.2)(52.5,29.7)(53,29.0)(53.25,28.2)(53.5,28.5)(53.75,27.8)(54,28.1)(54.25,28.8)(54.5,27.9)(54.75,28.7)(55,28.4)(55.25,27.6)(55.5,27.6)(55.75,28.5)(56,28.6)(56.25,27.8)(56.5,27.9)(56.75,28.8)(57,28.9)(57.25,28.0)(57.5,28.2)(57.75,29.0)(58,28.8)(58.25,27.9)(58.5,27.8)(58.75,28.7)(59,28.6)(59.2,27.4)(59.4,27.6)};
\addplot[ra] coordinates {(-0.4,28.55)(0,28.7)(0.5,28.55)(1,28.6)(1.5,28.8)(2,29.25)(2.5,29.7)(3,30.5)(3.3,30.75)(3.5,30.25)(4,30.1)(4.5,29.7)(5,29.0)(5.5,28.5)(6,28.55)(6.5,28.75)(7,28.55)(7.5,28.6)(8,28.7)(8.5,28.55)(9,29.25)(9.5,29.45)(10,29.25)(10.5,29.1)(11,28.8)(11.5,28.7)(12,28.5)(12.5,28.1)(12.6,27.95)(13,29.1)(13.5,29.3)(14,29.6)(14.5,30.5)(15,30.95)(15.35,31.6)(15.5,31.1)(16,29.8)(16.5,29.55)(16.95,29.1)(17.5,nan)(33.9,28.8)(34,28.7)(34.5,28.8)(35,28.95)(35.5,28.7)(36,28.5)(36.5,28.4)(37,28.55)(37.5,29.1)(38,29.4)(38.5,29.95)(39,30.5)(39.5,30.65)(40,30.5)(40.5,30.1)(41,29.8)(41.5,29.55)(42,29.4)(42.5,29.1)(43,29.25)(43.5,29.1)(44,29.25)(44.5,29.1)(45,30.5)(45.2,29.6)(45.5,29.55)(46,29.4)(46.5,29.25)(47,29.1)(47.5,28.95)(48,28.8)(49,nan)(49.8,29.4)(50,29.7)(50.5,30.5)(51,31.4)(51.4,32.0)(51.9,31.5)(52.3,30.9)(52.4,30.65)};
\node[anchor=west, font=\fontsize{10.7}{10.7}\selectfont, inner sep=0pt] at (rel axis cs:0.0078,0.9315) {LOC: 8N90E - NOBS:1024};
\end{axis}

%================ TAYLOR ROW 2 =================
\TaylorBase{111.8}{298.7}{269.8bp}
\begin{scope}[shift={(111.8,298.7)}]
\stdarc{68.13bp}\stdarc{136.25bp}\stdarc{204.38bp}
\rmsarcs{269.8bp}{68.13bp,136.25bp,204.38bp,272.5bp}
\node[rmslab,rotate=42] at (85.8,201.0) {0.80};
\node[rmslab,rotate=42] at (133.9,152.9) {0.60};
\node[rmslab,rotate=40] at (181.6,103.9) {0.40};
\node[rmslab,rotate=35] at (230.9,56.2) {0.20};
\node[rmslet] at (114.1,5.6) {R};\node[rmslet] at (119.6,32.3) {M};\node[rmslet] at (127.9,59) {S};\node[rmslet] at (140.5,80.6) {D};
\node[ttitle] at (-41.3,314) {LOC: 8N90E - NOBS:1024};
\end{scope}
\begin{axis}[taxis, at={(111.8bp,298.7bp)}, xmax=0.8, ymax=0.8, ytick={0.2,0.4,0.6,0.8}]
\addplot[tm, mark=+] coordinates {(0.634,0.287)};
\addplot[tm, mark=o] coordinates {(0.650,0.3355)};
\addplot[tm, mark=x] coordinates {(0.732,0.297)};
\addplot[tm, mark=square] coordinates {(0.603,0.4605)};
\addplot[tm, mark=triangle*, mark options={rotate=180}, mark size=3bp, forget plot] coordinates {(0.792,0)};
\end{axis}

\TaylorBase{495.9}{298.7}{224.8bp}
\begin{scope}[shift={(495.9,298.7)}]
\stdarc{68.13bp}\stdarc{136.25bp}\stdarc{204.38bp}
\rmsarcs{224.8bp}{68.13bp,136.25bp,204.38bp,272.5bp}
\node[rmslab,rotate=37] at (61.0,217.7) {0.80};
\node[rmslab,rotate=36] at (104.2,165.2) {0.60};
\node[rmslab,rotate=34] at (148.9,113.1) {0.40};
\node[rmslab,rotate=27] at (194.2,61.0) {0.20};
\node[rmslet] at (68.8,5.6) {R};\node[rmslet] at (74.3,32.3) {M};\node[rmslet] at (81.5,59) {S};\node[rmslet] at (94.7,80.6) {D};
\node[ttitle] at (-37.5,314) {LOC: 4N90E - NOBS:938};
\end{scope}
\begin{axis}[taxis, at={(495.9bp,298.7bp)}, xmax=0.8, ymax=0.8, ytick={0.2,0.4,0.6,0.8}]
\addplot[tm, mark=+] coordinates {(0.593,0.287)};
\addplot[tm, mark=o] coordinates {(0.5805,0.329)};
\addplot[tm, mark=x] coordinates {(0.5725,0.246)};
\addplot[tm, mark=square] coordinates {(0.540,0.407)};
\addplot[tm, mark=triangle*, mark options={rotate=180}, mark size=3bp, forget plot] coordinates {(0.66,0)};
\end{axis}

%================ PANEL 5 =================
\begin{axis}[tsaxis, at={(55.7bp,69.3bp)}, ymin=27, ymax=32, ytick={27,...,32}]
\addplot[bd] coordinates {(-0.4,29.7)(0,29.6)(1,29.7)(2,30.2)(2.5,30.5)(3,30.5)(4,30.2)(5,29.8)(6,29.8)(7,30.1)(8,30.0)(8.5,29.6)(9,30.1)(10,29.8)(11,29.7)(12,29.6)(13,29.5)(13,29.0)(12,28.9)(11,28.9)(10,28.7)(9,28.6)(8.5,27.9)(8,28.1)(7,28.4)(6,28.5)(5,28.7)(4,29.2)(3,29.5)(2.5,29.4)(2,28.9)(1.66,28.2)(1,28.8)(0,28.9)(-0.4,29.1)};
\addplot[bd] coordinates {(14.7,30.7)(15.5,31.4)(16,30.0)(16.6,29.8)(16.6,29.3)(16,29.3)(15.5,30.5)(14.7,30.0)};
\addplot[bd] coordinates {(19.3,28.6)(20.5,28.7)(21.6,29.5)(22.1,29.8)(22.1,29.1)(21.6,28.9)(20.5,28.1)(19.3,28.0)};
\addplot[bd] coordinates {(34.4,29.5)(35,29.8)(36,29.6)(37,29.2)(37.5,29.9)(38,30.8)(38.6,31.1)(40,30.9)(40.6,31.2)(41,30.7)(41.5,30.7)(42,29.8)(43,29.6)(44,29.5)(44.8,30.7)(45,30.6)(46,29.6)(46.5,29.6)(46.5,29.0)(46,28.9)(45,28.8)(44.8,28.9)(44,28.8)(43,28.8)(42,28.9)(41.5,29.3)(41,29.7)(40.6,30.2)(40,30.0)(38.6,30.0)(38,29.5)(37.5,28.6)(37,28.2)(36,28.9)(35,29.0)(34.4,28.5)};
\addplot[bd] coordinates {(49.6,29.8)(50,30.9)(50.5,31.5)(51.2,31.95)(52,31.4)(52.9,30.1)(52.9,29.5)(52,30.3)(51.2,31.0)(50.5,30.6)(50,29.8)(49.6,29.2)};
\addplot[ig] coordinates {(-0.4,29.6)(0,29.4)(1,29.5)(2,29.6)(3,29.9)(4,29.7)(5,28.6)(5.5,29.7)(6,28.7)(7,29.0)(8,28.7)(9,29.0)(10,29.2)(11,29.3)(12,29.2)(13,29.3)(14,30.0)(15,30.5)(16,29.8)(17,29.3)(18,29.0)(19,29.0)(20,28.6)(21,29.0)(22,29.0)(23,28.6)(24,28.3)(25,28.2)(26,29.4)(26.8,30.9)(27.5,30.5)(28,30.0)(29,29.5)(30,29.5)(31,29.4)(32,28.9)(33,28.8)(34,28.9)(35,28.8)(36,29.2)(37,28.8)(38,29.8)(39,30.4)(40,30.2)(41,30.0)(42,29.5)(43,29.3)(44,29.3)(45,29.2)(46,29.4)(47,29.5)(48,29.3)(49,29.4)(50,30.0)(51,31.2)(51.3,31.4)(52,30.6)(53,29.9)(53.5,29.6)(54,30.2)(54.5,29.6)(55,28.9)(56,28.6)(57,28.5)(58,28.5)(59,28.3)(59.4,28.5)};
\addplot[tg] coordinates {(-0.4,29.0)(0,28.6)(0.5,28.1)(1,28.4)(1.5,28.0)(2,28.5)(3,29.8)(4,29.6)(5,29.0)(6,28.5)(7,28.2)(8,28.3)(9,28.8)(10,29.0)(11,29.0)(12,28.7)(13,28.6)(14,30.0)(15,30.2)(16,29.5)(17,29.2)(18,28.8)(19,28.5)(20,28.1)(21,28.5)(22,28.8)(23,28.5)(24,28.1)(25,27.8)(26,28.6)(27,30.2)(28,29.6)(29,28.9)(30,28.6)(31,28.6)(32,28.8)(33,28.6)(34,28.5)(35,28.9)(36,28.6)(37,28.1)(38,29.3)(39,29.9)(40,29.9)(41,29.7)(42,29.2)(43,29.0)(44,28.9)(45,28.9)(46,29.0)(47,28.9)(48,29.0)(49,29.1)(50,29.7)(51,31.0)(51.3,31.2)(52,30.2)(53,29.4)(54,29.0)(55,28.7)(56,28.6)(57,28.4)(58,28.4)(59,28.2)(59.4,28.3)};
\addplot[ti] coordinates {(-0.4,28.9)(0,28.5)(0.5,28.7)(1,28.3)(1.5,29.0)(2,28.5)(3,30.0)(3.5,30.4)(4,29.8)(5,29.0)(6,28.2)(7,28.6)(8,28.3)(9,28.7)(10,29.2)(11,29.0)(12,29.0)(13,28.9)(14,30.4)(15,30.3)(16,29.6)(17,29.3)(18,28.8)(19,28.5)(20,28.3)(21,28.8)(22,29.0)(23,28.6)(24,28.0)(24.5,27.8)(25,28.0)(26,28.8)(27,30.5)(28,29.9)(29,29.0)(30,28.7)(31,28.8)(32,28.6)(33,28.4)(34,28.6)(35,29.1)(36,28.7)(36.8,27.7)(37,28.2)(38,29.5)(39,30.1)(40,30.0)(41,29.6)(42,29.2)(43,29.1)(44,29.0)(45,29.3)(46,29.1)(47,29.0)(48,29.1)(49,29.3)(50,29.8)(51,31.1)(51.3,31.3)(52,30.3)(53,29.4)(53.5,28.7)(54,29.2)(55,28.7)(56,28.5)(57,28.4)(58,28.5)(59,28.3)(59.4,28.6)};
\addplot[nh] coordinates {(-0.4,29.5)(-0.2,29.0)(0,29.9)(0.25,29.1)(0.5,28.7)(0.75,29.5)(1,29.2)(1.25,28.4)(1.5,28.6)(1.75,29.3)(2,27.7)(2.25,29.0)(2.5,29.8)(2.75,29.2)(3,30.0)(3.25,29.5)(3.5,29.4)(3.75,30.4)(4,30.4)(4.25,29.7)(4.5,29.5)(4.75,29.0)(5,28.8)(5.25,29.5)(5.5,29.2)(5.75,28.3)(6,28.4)(6.25,29.1)(6.5,28.9)(6.75,28.1)(7,28.2)(7.25,29.2)(7.5,29.0)(7.75,28.4)(8,28.3)(8.25,29.3)(8.5,28.9)(8.75,28.2)(9,27.6)(9.25,28.8)(9.5,29.1)(9.75,28.4)(10,28.5)(10.25,29.4)(10.5,29.3)(10.75,28.5)(11,28.8)(11.25,29.6)(11.5,29.5)(11.75,28.7)(12,28.1)(12.25,29.0)(12.5,29.3)(12.75,28.6)(13,29.6)(13.25,29.0)(13.5,28.3)(13.75,29.6)(14,30.6)(14.25,29.9)(14.5,29.8)(14.75,30.3)(15,30.5)(15.25,29.7)(15.5,29.4)(15.75,30.2)(16,30.0)(16.25,29.3)(16.5,29.1)(16.75,29.8)(17,29.4)(17.25,28.6)(17.5,28.8)(17.75,29.3)(18,28.9)(18.25,28.1)(18.5,28.2)(18.75,28.9)(19,28.7)(19.25,27.9)(19.5,27.5)(19.75,28.4)(20,28.6)(20.25,27.8)(20.5,27.7)(20.75,28.7)(21,28.9)(21.25,28.0)(21.5,28.3)(21.75,29.2)(22,29.6)(22.25,28.8)(22.5,28.6)(22.75,29.3)(23,29.0)(23.25,28.2)(23.5,28.2)(23.75,29.0)(24,28.5)(24.25,27.8)(24.5,27.3)(24.75,28.3)(25,28.4)(25.25,27.7)(25.5,28.1)(25.75,29.0)(26,29.4)(26.25,29.0)(26.5,29.8)(26.75,30.3)(27,30.7)(27.3,31.0)(27.5,30.2)(27.75,29.7)(28,29.6)(28.25,29.2)(28.5,29.0)(28.75,28.4)(29,28.5)(29.25,29.3)(29.5,29.2)(29.75,28.2)(30,27.8)(30.25,28.7)(30.5,28.9)(30.75,28.1)(31,27.5)(31.25,28.6)(31.5,28.8)(31.75,28.0)(32,28.3)(32.25,29.1)(32.5,29.0)(32.75,28.2)(33,27.4)(33.25,28.5)(33.5,28.7)(33.75,28.0)(34,28.2)(34.25,29.0)(34.5,29.0)(34.75,28.3)(35,28.4)(35.25,29.2)(35.5,29.2)(35.75,28.5)(36,28.7)(36.25,29.3)(36.5,28.3)(36.75,28.9)(37,29.2)(37.25,28.6)(37.5,29.6)(37.75,29.0)(38,29.2)(38.25,29.8)(38.5,30.0)(38.75,29.4)(39,29.5)(39.25,30.2)(39.5,30.0)(39.75,29.3)(40,29.7)(40.25,30.2)(40.5,29.9)(40.75,29.1)(41,29.2)(41.25,29.8)(41.5,29.6)(41.75,28.7)(42,28.5)(42.25,29.2)(42.5,29.1)(42.75,28.3)(43,28.6)(43.25,29.4)(43.5,29.3)(43.75,28.5)(44,28.4)(44.25,29.2)(44.5,27.1)(44.75,28.6)(45,29.1)(45.25,28.5)(45.5,28.3)(45.75,29.1)(46,29.3)(46.25,28.5)(46.5,28.7)(46.75,29.4)(47,29.1)(47.25,28.3)(47.5,28.3)(47.75,29.2)(48,29.4)(48.25,28.7)(48.5,28.6)(48.75,29.5)(49,29.4)(49.25,28.6)(49.5,28.9)(49.75,29.6)(50,29.8)(50.25,29.4)(50.5,30.4)(50.75,30.9)(51,30.7)(51.25,31.0)(51.5,30.2)(51.75,30.8)(52,30.5)(52.25,29.8)(52.5,29.5)(52.75,30.1)(53,29.7)(53.25,28.8)(53.5,28.4)(53.75,29.3)(54,29.4)(54.25,28.6)(54.5,28.6)(54.75,29.2)(55,28.9)(55.25,28.1)(55.5,28.2)(55.75,28.9)(56,28.5)(56.25,27.8)(56.5,27.6)(56.75,28.6)(57,28.8)(57.25,28.0)(57.5,27.8)(57.75,28.7)(58,28.9)(58.25,28.0)(58.5,27.4)(58.75,28.3)(59,28.6)(59.2,27.8)(59.4,29.1)};
\addplot[ra] coordinates {(-0.4,29.48)(0,29.17)(0.5,29.43)(1,29.27)(1.5,28.87)(1.66,28.46)(2,29.78)(2.5,30.08)(2.8,30.44)(3,29.98)(3.3,30.35)(3.5,29.78)(4,29.68)(4.5,29.37)(5,28.97)(5.5,28.9)(6,28.77)(6.5,28.72)(7,29.88)(7.3,28.85)(7.5,28.87)(8,28.72)(8.3,29.45)(8.5,28.45)(9,29.17)(9.5,29.07)(10,29.17)(10.5,29.58)(11,29.27)(11.5,29.37)(12,29.27)(12.5,29.17)(13,29.22)(13.5,nan)(14.7,30.4)(15,30.3)(15.3,30.5)(15.5,31.2)(15.7,30.2)(16,29.6)(16.3,29.4)(16.6,29.55)(17.5,nan)(19.3,28.3)(19.6,28.1)(20,28.25)(20.5,28.4)(21,28.6)(21.3,28.9)(21.6,29.2)(22,29.6)(22.1,29.4)(23,nan)(34.4,29.17)(34.5,28.67)(35,29.58)(35.5,29.48)(36,29.27)(36.5,28.97)(37,28.46)(37.5,29.37)(38,30.18)(38.5,30.78)(38.6,30.94)(39,30.38)(39.5,30.48)(40,30.48)(40.6,31.0)(41,30.28)(41.5,29.68)(42,29.37)(42.5,29.48)(43,29.17)(43.5,29.27)(44,29.07)(44.5,29.58)(44.8,30.48)(45,30.18)(45.5,29.48)(46,29.27)(46.5,29.37)(47.5,nan)(49.6,29.47)(50,30.28)(50.5,31.09)(51,31.4)(51.2,31.8)(51.5,31.5)(52,30.58)(52.5,30.18)(52.9,29.8)};
\node[anchor=west, font=\fontsize{10.7}{10.7}\selectfont, inner sep=0pt] at (rel axis cs:0.0078,0.9315) {LOC: 4N90E - NOBS:938};
\end{axis}
\end{tikzpicture}
\end{document}
